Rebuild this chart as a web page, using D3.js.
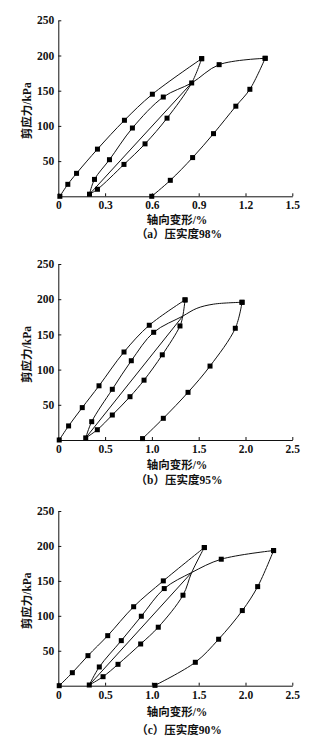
<!DOCTYPE html>
<html>
<head>
<meta charset="utf-8">
<script src="https://cdn.jsdelivr.net/npm/d3@7/dist/d3.min.js"></script>
<style>
  body { margin: 0; background: #fff; }
  svg { display: block; }
  text { fill: #111; }
</style>
</head>
<body>
<svg id="fig" width="330" height="741"></svg>
<script>
// Each point: [axial strain %, shear stress kPa, measured (1) or curve-only (0)]

// (a) compaction 98%
const a_load1   = [[0.01,0,1],[0.061,17,1],[0.117,32.6,1],[0.251,67,1],[0.424,108,1],[0.603,145,1],[0.919,195.5,1]];
const a_unload1 = [[0.919,195.5,1],[0.855,161,1],[0.697,111,1],[0.556,74.5,1],[0.421,45.3,1],[0.251,10,1],[0.2,3,1]];
const a_reload  = [[0.2,3,0],[0.855,161,0]];
const a_load3   = [[0.2,3,0],[0.232,24,1],[0.328,52,1],[0.475,97,1],[0.673,141,1],[0.855,161,0],[1.031,187,1],[1.326,196,1]];
const a_unload3 = [[1.326,196,1],[1.228,152,1],[1.138,128,1],[0.995,89,1],[0.861,55,1],[0.718,22.7,1],[0.599,0,1]];

// (b) compaction 95%
const b_load1   = [[0.01,0,1],[0.11,20,1],[0.256,46,1],[0.435,77,1],[0.702,125,1],[0.972,163,1],[1.354,199,1]];
const b_unload1 = [[1.354,199,1],[1.33,176,0],[1.30,162,1],[1.111,121,1],[0.916,85,1],[0.766,61.5,1],[0.577,35.5,1],[0.417,14.6,1],[0.293,3,1]];
const b_reload  = [[0.293,3,0],[1.33,176,0]];
const b_load3   = [[0.293,3,0],[0.357,26,1],[0.577,72,1],[0.78,112.6,1],[1.019,153,1],[1.33,176,0],[1.48,187,0],[1.66,193,0],[1.963,195.6,1]];
const b_unload3 = [[1.963,195.6,1],[1.891,158.7,1],[1.621,105,1],[1.386,67.7,1],[1.122,30.8,1],[0.9,2,1]];

// (c) compaction 90%
const c_load1   = [[0.01,0,1],[0.15,18.6,1],[0.317,43,1],[0.528,71.6,1],[0.805,113,1],[1.122,150,1],[1.56,197.7,1]];
const c_unload1 = [[1.56,197.7,1],[1.425,162,0],[1.332,129.5,1],[1.068,83.7,1],[0.88,59.7,1],[0.638,30.6,1],[0.478,12.9,1],[0.331,1,1]];
const c_reload  = [[0.331,1,0],[1.425,162,0]];
const c_load3   = [[0.331,1,0],[0.438,26.8,1],[0.673,64.5,1],[0.887,99.4,1],[1.132,139,1],[1.425,162,0],[1.741,181,1],[2.30,193.4,1]];
const c_unload3 = [[2.30,193.4,1],[2.13,141.8,1],[1.966,107.5,1],[1.713,66.5,1],[1.464,33.5,1],[1.033,0.5,1]];

// Axis ticks and labels
const xTicksA = [0, 0.3, 0.6, 0.9, 1.2, 1.5];
const xTicksBC = [0, 0.5, 1.0, 1.5, 2.0, 2.5];
const yTicks = [50, 100, 150, 200, 250];
const yLabel = "剪应力/kPa";
const xLabel = "轴向变形/%";
const captions = ["（a）压实度98%", "（b）压实度95%", "（c）压实度90%"];

const panels = [
  { curves: [a_load1, a_unload1, a_reload, a_load3, a_unload3], xTicks: xTicksA, xMax: 1.5,
    top: 20.3, bottom: 196.3, titleY: 220, captionY: 233.5, caption: captions[0] },
  { curves: [b_load1, b_unload1, b_reload, b_load3, b_unload3], xTicks: xTicksBC, xMax: 2.5,
    top: 264, bottom: 440, titleY: 465, captionY: 480, caption: captions[1] },
  { curves: [c_load1, c_unload1, c_reload, c_load3, c_unload3], xTicks: xTicksBC, xMax: 2.5,
    top: 511, bottom: 685.7, titleY: 711.5, captionY: 730, caption: captions[2] }
];

const svg = d3.select("#fig");
const left = 58.3, right = 292.3;
const numFont = "'Liberation Serif', 'Times New Roman', serif";
const cjkFont = "'Liberation Serif', 'Noto Sans CJK SC', serif";

const fmt = d => d === 0 ? "0" : d3.format(".1f")(d);

panels.forEach(p => {
  const x = d3.scaleLinear().domain([0, p.xMax]).range([left, right]);
  const y = d3.scaleLinear().domain([0, 250]).range([p.bottom, p.top]);
  const g = svg.append("g");

  // x axis, ticks pointing inward
  const gx = g.append("g")
    .attr("transform", `translate(0,${p.bottom})`)
    .call(d3.axisBottom(x).tickValues(p.xTicks).tickFormat(fmt)
      .tickSizeInner(-3).tickSizeOuter(0).tickPadding(5));
  // y axis
  const gy = g.append("g")
    .attr("transform", `translate(${left},0)`)
    .call(d3.axisLeft(y).tickValues(yTicks).tickFormat(d3.format("d"))
      .tickSizeInner(-3).tickSizeOuter(0).tickPadding(4));

  [gx, gy].forEach(ax => {
    ax.select(".domain").attr("stroke", "#111").attr("stroke-width", 1);
    ax.selectAll(".tick line").attr("stroke", "#111").attr("stroke-width", 1);
    ax.selectAll(".tick text")
      .attr("fill", "#111")
      .style("font-family", numFont)
      .style("font-size", "11.5px")
      .style("font-weight", "bold");
  });

  // curves
  const line = d3.line()
    .x(d => x(d[0]))
    .y(d => y(d[1]))
    .curve(d3.curveCatmullRom.alpha(0.5));

  g.selectAll("path.curve").data(p.curves).enter().append("path")
    .attr("class", "curve")
    .attr("d", line)
    .attr("fill", "none")
    .attr("stroke", "#111")
    .attr("stroke-width", 1);

  // measured points as filled squares
  const pts = p.curves.flat().filter(d => d[2] === 1);
  const s = 5;
  g.selectAll("rect.pt").data(pts).enter().append("rect")
    .attr("class", "pt")
    .attr("x", d => x(d[0]) - s / 2)
    .attr("y", d => y(d[1]) - s / 2)
    .attr("width", s)
    .attr("height", s)
    .attr("fill", "#000");

  // axis titles
  const midY = (p.top + p.bottom) / 2 + 2.5;
  g.append("text")
    .attr("transform", `translate(27,${midY}) rotate(-90)`)
    .attr("text-anchor", "middle")
    .attr("dominant-baseline", "central")
    .style("font-family", cjkFont)
    .style("font-size", "11.5px")
    .style("font-weight", "bold")
    .text(yLabel);

  g.append("text")
    .attr("x", 177)
    .attr("y", p.titleY)
    .attr("text-anchor", "middle")
    .attr("dominant-baseline", "central")
    .style("font-family", cjkFont)
    .style("font-size", "11.5px")
    .style("font-weight", "bold")
    .text(xLabel);

  g.append("text")
    .attr("x", 179)
    .attr("y", p.captionY)
    .attr("text-anchor", "middle")
    .attr("dominant-baseline", "central")
    .style("font-family", cjkFont)
    .style("font-size", "11.5px")
    .style("font-weight", "bold")
    .text(p.caption);
});
</script>
</body>
</html>
